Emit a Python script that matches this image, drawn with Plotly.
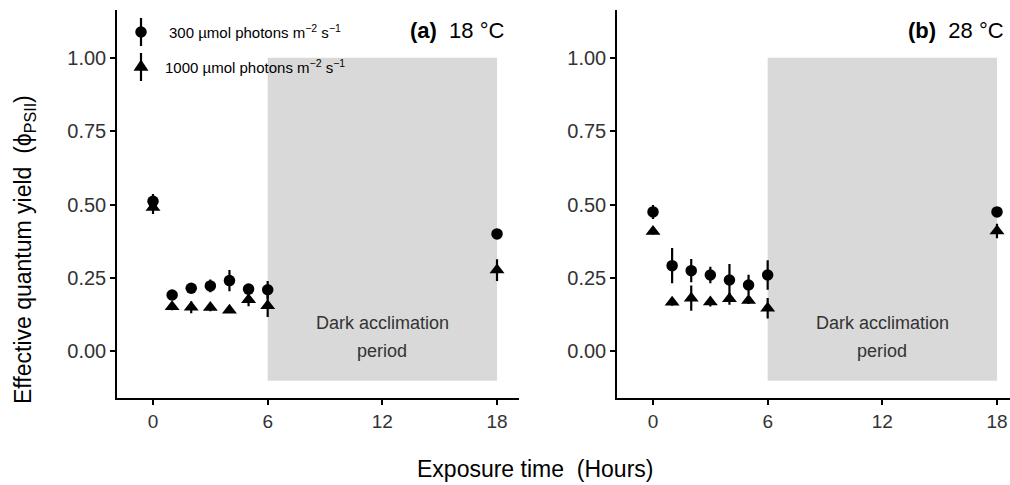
import plotly.graph_objects as go

# Exposure time (hours)
hours = [0, 1, 2, 3, 4, 5, 6, 18]

# Panel (a) 18 °C
a_300 = [0.511, 0.192, 0.215, 0.223, 0.241, 0.212, 0.210, 0.400]
a_300_err = [0.025, 0.015, 0.012, 0.022, 0.036, 0.012, 0.030, 0.008]
a_1000 = [0.490, 0.152, 0.150, 0.149, 0.140, 0.176, 0.155, 0.277]
a_1000_err = [0.022, 0.012, 0.020, 0.012, 0.008, 0.022, 0.038, 0.037]

# Panel (b) 28 °C
b_300 = [0.475, 0.292, 0.275, 0.260, 0.243, 0.226, 0.260, 0.475]
b_300_err = [0.024, 0.060, 0.040, 0.028, 0.055, 0.035, 0.050, 0.008]
b_1000 = [0.408, 0.167, 0.181, 0.168, 0.179, 0.173, 0.147, 0.410]
b_1000_err = [0.010, 0.012, 0.043, 0.015, 0.020, 0.012, 0.035, 0.025]

x_ticks = [0, 6, 12, 18]
y_ticks = [0.0, 0.25, 0.50, 0.75, 1.00]
dark_period = (6, 18)
dark_yspan = (-0.1, 1.0)

FONT = "Liberation Sans"
W, H = 1010, 485


def px_x(p):
    return p / W


def px_y(p):
    return 1 - p / H


fig = go.Figure()


def add_series(xa, ya, y, err, symbol, size):
    fig.add_trace(go.Scatter(
        x=hours, y=y, mode="markers", xaxis=xa, yaxis=ya,
        marker=dict(symbol=symbol, size=size, color="black", line=dict(width=0)),
        error_y=dict(type="data", array=err, visible=True, thickness=2.2,
                     width=0, color="black"),
        showlegend=False, hoverinfo="skip",
    ))


add_series("x", "y", a_1000, a_1000_err, "triangle-up", 13)
add_series("x", "y", a_300, a_300_err, "circle", 11.5)
add_series("x2", "y2", b_1000, b_1000_err, "triangle-up", 13)
add_series("x2", "y2", b_300, b_300_err, "circle", 11.5)

shapes = []
annotations = []
for xr, yr in (("x", "y"), ("x2", "y2")):
    shapes.append(dict(type="rect", xref=xr, yref=yr, x0=dark_period[0], x1=dark_period[1],
                       y0=dark_yspan[0], y1=dark_yspan[1], fillcolor="#d9d9d9",
                       line=dict(width=0), layer="below"))
    mid = (dark_period[0] + dark_period[1]) / 2
    annotations.append(dict(xref=xr, yref=yr, x=mid, y=0.098, text="Dark acclimation",
                            showarrow=False, font=dict(family=FONT, size=18, color="#333333")))
    annotations.append(dict(xref=xr, yref=yr, x=mid, y=0.0, text="period",
                            showarrow=False, font=dict(family=FONT, size=18, color="#333333")))

# Panel titles
for right_px, tag, temp in ((506, "a", "18 °C"), (1006, "b", "28 °C")):
    annotations.append(dict(xref="paper", yref="paper", x=px_x(right_px), y=px_y(30),
                            xanchor="right", yanchor="middle", showarrow=False,
                            text=f"<b>({tag})</b>  {temp}",
                            font=dict(family=FONT, size=22, color="black")))

# Legend keys (marker with vertical error bar) and labels
key_x = px_x(141)
for cy, y0, y1, label, kind in (
    (32, 18, 46, "300 µmol photons m<sup>−2</sup> s<sup>−1</sup>", "circle"),
    (67, 53, 81, "1000 µmol photons m<sup>−2</sup> s<sup>−1</sup>", "triangle"),
):
    shapes.append(dict(type="line", xref="paper", yref="paper", x0=key_x, x1=key_x,
                       y0=px_y(y0), y1=px_y(y1), line=dict(color="black", width=2.2)))
    if kind == "circle":
        shapes.append(dict(type="circle", xref="paper", yref="paper",
                           xsizemode="pixel", ysizemode="pixel",
                           xanchor=key_x, yanchor=px_y(cy),
                           x0=-5.75, x1=5.75, y0=-5.75, y1=5.75,
                           fillcolor="black", line=dict(width=0)))
    else:
        shapes.append(dict(type="path", xref="paper", yref="paper",
                           xsizemode="pixel", ysizemode="pixel",
                           xanchor=key_x, yanchor=px_y(cy),
                           path="M-7.5,-3.75 L7.5,-3.75 L0,7.5 Z",
                           fillcolor="black", line=dict(width=0)))
    annotations.append(dict(xref="paper", yref="paper", x=px_x(255), y=px_y(cy),
                            xanchor="center", yanchor="middle", showarrow=False,
                            text=label, font=dict(family=FONT, size=15, color="black")))

# Axis titles
annotations.append(dict(xref="paper", yref="paper", x=px_x(535), y=px_y(469),
                        xanchor="center", yanchor="middle", showarrow=False,
                        text="Exposure time  (Hours)",
                        font=dict(family=FONT, size=23, color="black")))
annotations.append(dict(xref="paper", yref="paper", x=px_x(25), y=px_y(250),
                        xanchor="center", yanchor="middle", showarrow=False, textangle=-90,
                        text="Effective quantum yield  (ϕ<sub>PSII</sub>)",
                        font=dict(family=FONT, size=23, color="black")))

common_x = dict(tickvals=x_ticks, ticks="outside", ticklen=5, tickwidth=1.5,
                tickcolor="black", showline=True, linecolor="black", linewidth=1.5,
                showgrid=False, zeroline=False,
                tickfont=dict(family=FONT, size=19, color="#333333"))
common_y = dict(tickvals=y_ticks, tickformat=".2f", ticks="outside", ticklen=5,
                tickwidth=1.5, tickcolor="black", showline=True, linecolor="black",
                linewidth=1.5, showgrid=False, zeroline=False, range=[-0.16, 1.163],
                tickfont=dict(family=FONT, size=20, color="#333333"))

y_dom = [px_y(398.3), px_y(10)]
fig.update_layout(
    width=W, height=H, margin=dict(l=0, r=0, t=0, b=0),
    paper_bgcolor="white", plot_bgcolor="white",
    xaxis=dict(domain=[px_x(117), px_x(519)], range=[-1.884, 19.15], anchor="y", **common_x),
    yaxis=dict(domain=y_dom, anchor="x", **common_y),
    xaxis2=dict(domain=[px_x(617), 1.0], range=[-1.884, 18.68], anchor="y2", **common_x),
    yaxis2=dict(domain=y_dom, anchor="x2", **common_y),
    shapes=shapes, annotations=annotations,
)

fig.write_html("out.html")
